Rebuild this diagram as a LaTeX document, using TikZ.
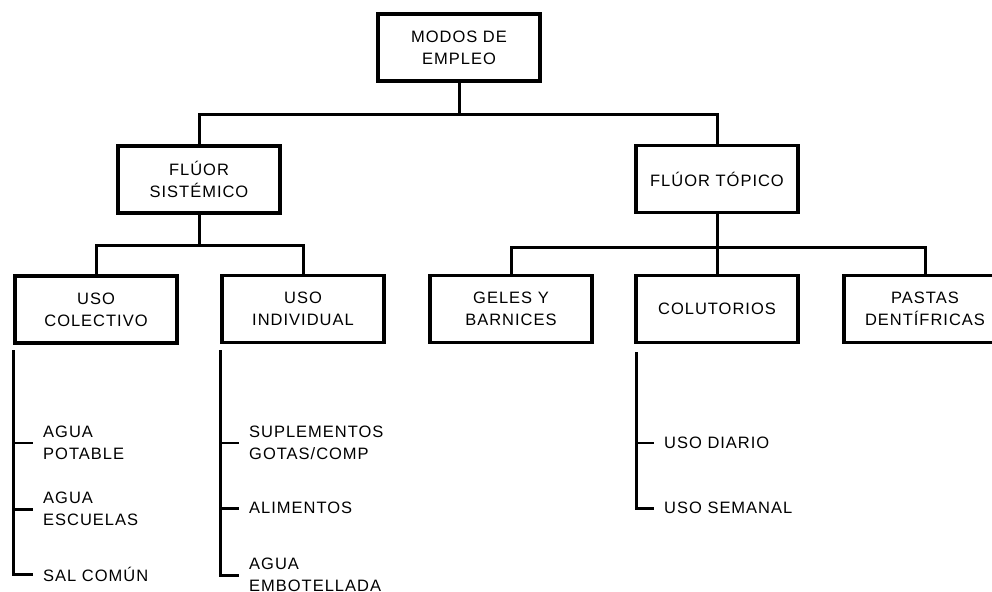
\documentclass[tikz,border=0pt]{standalone}
\usepackage{fontspec}
\setmainfont[LetterSpace=6]{Liberation Sans}
\begin{document}
\begin{tikzpicture}[x=1pt,y=-1pt,
  box/.style={draw, line width=3.5pt, minimum width=162pt, minimum height=67pt, inner sep=0pt, align=center, font=\fontsize{16.5}{22}\selectfont},
  leaf/.style={anchor=west, inner xsep=10pt, inner ysep=0pt, align=left, font=\fontsize{16.5}{22}\selectfont},
  link/.style={line width=3pt},
  tick/.style={line width=1.8pt}]
\useasboundingbox (0,0) rectangle (992,591);
\node[box] (modos) at (459,47.5){MODOS DE\\EMPLEO};
\node[box] (sis) at (199,179.5){FLÚOR\\SISTÉMICO};
\node[box] (top) at (717,179){FLÚOR TÓPICO};
\coordinate (j0) at (459,115);
\draw[link](modos) -- (j0);
\draw[link](sis.north) |- (j0) -| (top.north);
\node[box] (col) at (96,309.5){USO\\COLECTIVO};
\node[box] (ind) at (303,309){USO\\INDIVIDUAL};
\coordinate (j1) at (199,245);
\draw[link](sis) -- (j1);
\draw[link](col.north) |- (j1) -| (ind.north);
\node[box] (gel) at (511,309){GELES Y\\BARNICES};
\node[box] (clt) at (717,309){COLUTORIOS};
\node[box] (pas) at (925,309){PASTAS\\DENTÍFRICAS};
\coordinate (j2) at (717,247);
\draw[link](top) -- (j2);
\draw[link](gel.north) |- (j2) -| (pas.north);
\draw[link](j2) -- (clt);
% uso colectivo
\coordinate (colsp) at (13,350);
\node[leaf] (pot) at (33,443){AGUA\\POTABLE};
\node[leaf] (esc) at (33,509){AGUA\\ESCUELAS};
\node[leaf] (sal) at (33,574){SAL COMÚN};
\draw[link](colsp) |- (sal.west);
\draw[tick](pot.west -| colsp) -- (pot.west);
\draw[link](esc.west -| colsp) -- (esc.west);
% uso individual
\coordinate (indsp) at (220,350);
\node[leaf] (sup) at (239,443){SUPLEMENTOS\\GOTAS/COMP};
\node[leaf] (ali) at (239,508){ALIMENTOS};
\node[leaf] (emb) at (239,575){AGUA\\EMBOTELLADA};
\draw[link](indsp) |- (emb.west);
\draw[tick](sup.west -| indsp) -- (sup.west);
\draw[link](ali.west -| indsp) -- (ali.west);
% colutorios
\coordinate (cltsp) at (636,352);
\node[leaf] (dia) at (654,443){USO DIARIO};
\node[leaf] (sem) at (654,508){USO SEMANAL};
\draw[link](cltsp) |- (sem.west);
\draw[tick](dia.west -| cltsp) -- (dia.west);

\end{tikzpicture}
\end{document}
